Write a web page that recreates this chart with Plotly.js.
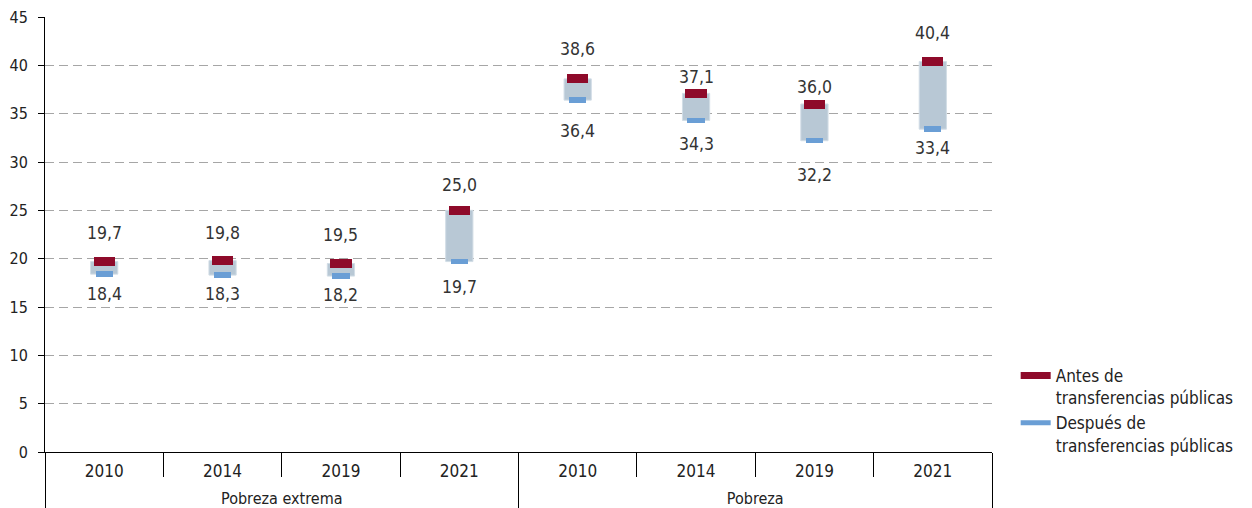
<!DOCTYPE html>
<html><head><meta charset="utf-8">
<script src="https://cdn.plot.ly/plotly-3.0.1.min.js"></script>
<style>html,body{margin:0;padding:0;background:#fff}#chart{width:1252px;height:508px}</style>
</head><body><div id="chart"></div>
<script>
// ---- data ----
const groups = ["Pobreza extrema","Pobreza extrema","Pobreza extrema","Pobreza extrema","Pobreza","Pobreza","Pobreza","Pobreza"];
const years = ["2010","2014","2019","2021","2010","2014","2019","2021"];
const antes = [19.7, 19.8, 19.5, 25.0, 38.6, 37.1, 36.0, 40.4];
const despues = [18.4, 18.3, 18.2, 19.7, 36.4, 34.3, 32.2, 33.4];
const yTicks = [0, 5, 10, 15, 20, 25, 30, 35, 40, 45];
const seriesNames = ["Antes de<br>transferencias públicas", "Después de<br>transferencias públicas"];

// ---- style ----
const FONT = '"Liberation Sans Narrow", "DejaVu Sans Condensed", "Roboto Condensed", sans-serif';
const RED = '#8e0a2a', BLUE = '#6a9ed5', GREY = '#b8c8d5';
const antesLabelShift = [29, 28, 28.5, 25, 30, 16, 17, 28];
const despuesLabelShift = [-19.5, -18.5, -19, -25, -31, -24, -34, -19];
const redH = 0.93, blueH = 0.57;

const sized = (s, px) => `<span style="font-size:${px}px">${s}</span>`;
const x = [groups.map(g => sized(g, 16)), years.map(y => sized(y, 17))];
const fmt = v => v.toFixed(1).replace('.', ',');

const traces = [
  {type:'bar', x:x, y:antes.map((a,i)=>a-despues[i]), base:despues, width:0.23,
   marker:{color:GREY, line:{color:'#d2dde6', width:1}}, showlegend:false, hoverinfo:'skip'},
  {type:'bar', x:x, y:antes.map(()=>redH), base:antes.map(a=>a-redH/2), width:0.18,
   marker:{color:RED, line:{width:0}}, showlegend:false, hoverinfo:'skip'},
  {type:'bar', x:x, y:despues.map(()=>blueH), base:despues.map(d=>d-blueH/2), width:0.145,
   marker:{color:BLUE, line:{width:0}}, showlegend:false, hoverinfo:'skip'},
  {type:'scatter', mode:'lines', x:[null], y:[null], name:seriesNames[0], line:{color:RED, width:7}},
  {type:'scatter', mode:'lines', x:[null], y:[null], name:seriesNames[1], line:{color:BLUE, width:5}}
];

const annotations = [];
antes.forEach((v,i)=>annotations.push({x:i, y:v, xref:'x', yref:'y', text:fmt(v), showarrow:false, yshift:antesLabelShift[i], font:{size:17.5, color:'#333', family:FONT}}));
despues.forEach((v,i)=>annotations.push({x:i, y:v, xref:'x', yref:'y', text:fmt(v), showarrow:false, yshift:despuesLabelShift[i], font:{size:17.5, color:'#333', family:FONT}}));

const layout = {
  width:1252, height:508,
  margin:{l:45, r:260, t:17, b:56, pad:0, autoexpand:false},
  paper_bgcolor:'#fff', plot_bgcolor:'#fff',
  font:{family:FONT, color:'#222', size:16},
  barmode:'overlay',
  bargap:0,
  showlegend:true,
  legend:{x:1.025, y:0.216, xanchor:'left', yanchor:'top', valign:'top', font:{size:17, color:'#222', family:FONT}, bgcolor:'rgba(0,0,0,0)', tracegroupgap:0},
  xaxis:{type:'multicategory', showline:true, linecolor:'#000', linewidth:1, ticks:'outside', ticklen:24, tickcolor:'#000', tickwidth:1,
         tickson:'boundaries', showdividers:true, dividercolor:'#000', dividerwidth:1, showgrid:false, zeroline:false,
         ticklabelstandoff:-5, tickfont:{size:24, color:'#222', family:FONT}},
  yaxis:{range:[0,45], tickvals:yTicks, ticktext:yTicks.map(String), ticks:'outside', ticklen:6, tickcolor:'#000',
         showline:true, linecolor:'#000', linewidth:1, showgrid:true, gridcolor:'#a6a6a6', griddash:'9px,5px', gridwidth:1,
         zeroline:false, ticklabelstandoff:7, tickfont:{size:16, color:'#222', family:FONT}},
  annotations:annotations
};

Plotly.newPlot('chart', traces, layout, {displayModeBar:false, staticPlot:true});
</script>
</body></html>
